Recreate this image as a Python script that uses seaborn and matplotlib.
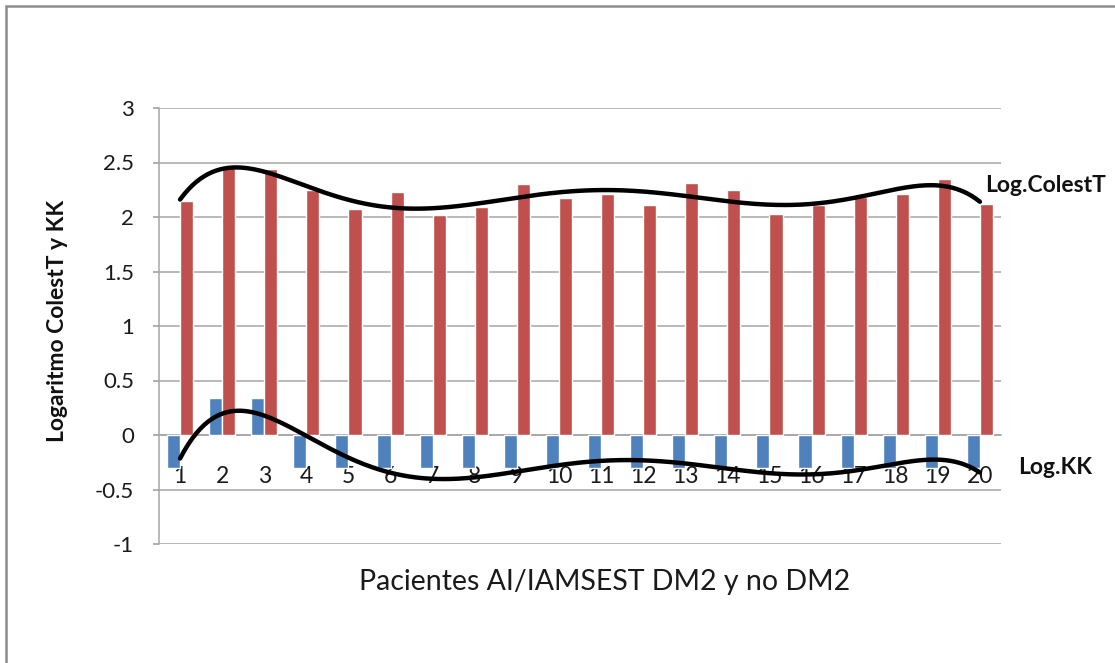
import numpy as np
import pandas as pd
import seaborn as sns
import matplotlib.pyplot as plt
from matplotlib.patches import Rectangle

patients = [str(i) for i in range(1, 21)]
log_kk = [-0.30, 0.34, 0.34, -0.30, -0.30, -0.30, -0.30, -0.30, -0.30, -0.30,
          -0.30, -0.30, -0.30, -0.30, -0.30, -0.30, -0.30, -0.30, -0.30, -0.30]
log_colest = [2.15, 2.46, 2.44, 2.25, 2.07, 2.23, 2.02, 2.09, 2.30, 2.17,
              2.21, 2.11, 2.31, 2.25, 2.03, 2.11, 2.18, 2.21, 2.35, 2.12]
series_names = ["Log.KK", "Log.ColestT"]
colors = ["#4F81BD", "#C0504D"]
y_ticks = [-1, -0.5, 0, 0.5, 1, 1.5, 2, 2.5, 3]
y_tick_labels = ["-1", "-0.5", "0", "0.5", "1", "1.5", "2", "2.5", "3"]

df = pd.DataFrame({
    "Paciente": patients * 2,
    "Serie": [series_names[0]] * 20 + [series_names[1]] * 20,
    "Valor": log_kk + log_colest,
})

sns.set_theme(style="white")
plt.rcParams["font.family"] = ["Lato", "DejaVu Sans"]

fig = plt.figure(figsize=(11.15, 6.63), dpi=100)
ax = fig.add_axes([159 / 1115, 1 - 544 / 663, (1001 - 159) / 1115, (544 - 108) / 663])

sns.barplot(data=df, x="Paciente", y="Valor", hue="Serie", order=patients,
            hue_order=series_names, palette=colors, width=0.62, dodge=True,
            saturation=1, ax=ax, legend=False, zorder=3)

# polynomial trend lines (order 6) fitted to each series
xs = np.arange(1, 21)
xx = np.linspace(1, 20, 400)
for vals in (log_colest, log_kk):
    coef = np.polyfit(xs, vals, 6)
    ax.plot(xx - 1, np.polyval(coef, xx), color="black", lw=3.2, zorder=5,
            solid_capstyle="round")

ax.set_xlim(-0.5, 19.5)
ax.set_ylim(-1, 3)
ax.set_yticks(y_ticks)
ax.set_yticklabels(y_tick_labels)
ax.grid(axis="y", color="#A6A6A6", lw=1.1, zorder=0)
ax.set_axisbelow(True)
for s in ["top", "right"]:
    ax.spines[s].set_visible(False)
ax.spines["left"].set_color("#A6A6A6")
ax.spines["left"].set_linewidth(1.1)
ax.spines["bottom"].set_position(("data", 0))
ax.spines["bottom"].set_color("#A6A6A6")
ax.spines["bottom"].set_linewidth(1.1)
ax.tick_params(axis="y", length=4, color="#A6A6A6", direction="out", pad=14,
               labelsize=16, labelcolor="#1a1a1a", left=True)
ax.tick_params(axis="x", length=0, pad=22, labelsize=16.5, labelcolor="#1a1a1a")
ax.set_xlabel("")
ax.set_ylabel("")

fig.text(57 / 1115, 1 - 321 / 663, "Logaritmo ColestT y KK", rotation=90,
         ha="center", va="center", fontsize=16.5, fontweight="bold", color="#111111")
fig.text(605 / 1115, 1 - 582 / 663, "Pacientes AI/IAMSEST DM2 y no DM2",
         ha="center", va="center", fontsize=20.5, color="#1a1a1a")

ax.text(985 / 1115, 1 - 185 / 663, "Log.ColestT", transform=fig.transFigure,
        ha="left", va="center", fontsize=16.5, fontweight="bold", color="#111111")
ax.text(1018 / 1115, 1 - 467 / 663, "Log.KK", transform=fig.transFigure,
        ha="left", va="center", fontsize=16.5, fontweight="bold", color="#111111")

border = Rectangle((6 / 1115, -0.05), 1.2, 1 - 6 / 663 + 0.05, transform=fig.transFigure,
                   fill=False, edgecolor="#8C8C8C", lw=1.8, clip_on=False)
fig.patches.append(border)

fig.savefig("out.png", dpi=100)
